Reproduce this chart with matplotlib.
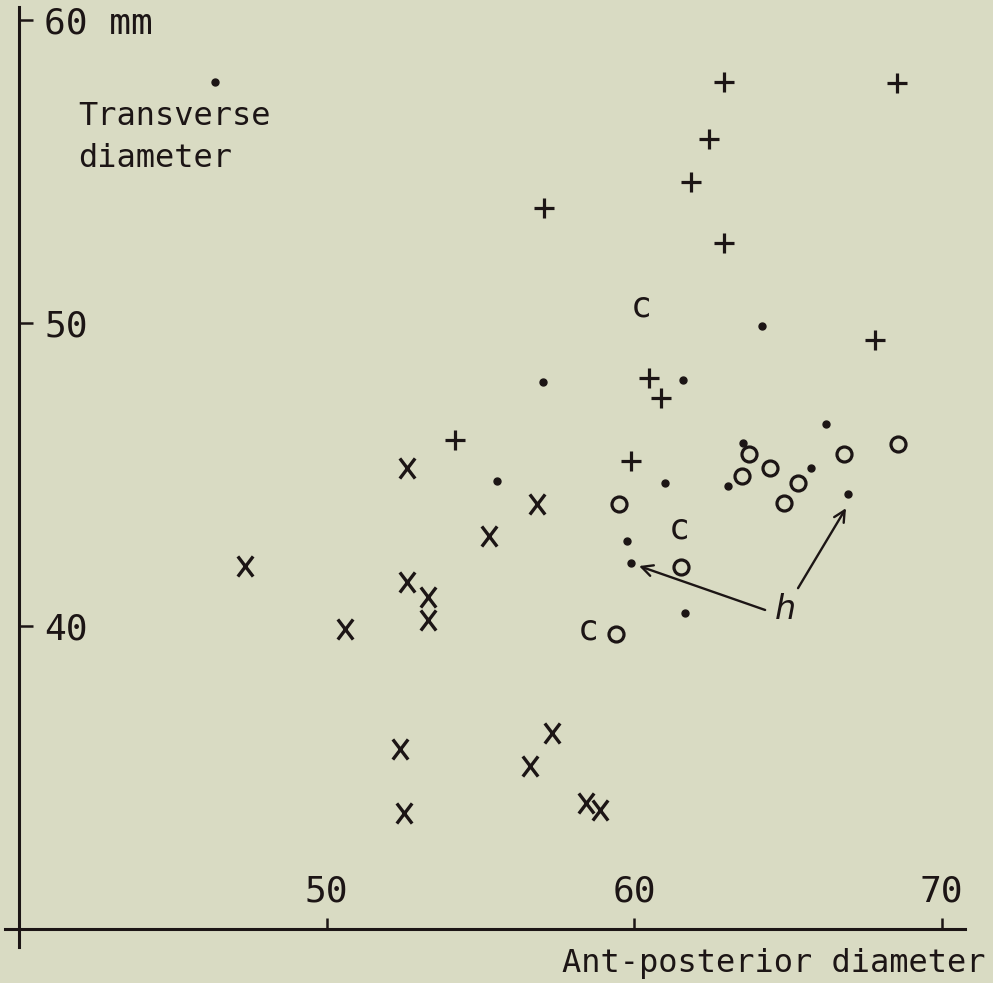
import matplotlib
matplotlib.use('Agg')
import matplotlib.pyplot as plt
from matplotlib.path import Path

plus_x = [62.93, 68.55, 62.44, 61.85, 57.07, 62.93, 67.84, 60.49, 60.88, 54.18, 59.90]
plus_y = [57.97, 57.92, 56.07, 54.65, 53.80, 52.64, 49.44, 48.18, 47.52, 46.14, 45.45]

cross_x = [47.35, 50.60, 52.62, 52.62, 53.30, 53.30, 55.28, 56.85, 52.39, 52.52, 56.62, 57.33, 58.44, 58.89]
cross_y = [41.98, 39.90, 45.21, 41.45, 40.96, 40.20, 42.97, 44.03, 35.94, 33.83, 35.38, 36.47, 34.16, 33.93]

circle_x = [59.51, 61.53, 59.41, 63.74, 63.51, 64.42, 65.33, 64.88, 66.83, 68.59]
circle_y = [44.03, 41.95, 39.74, 45.68, 44.95, 45.21, 44.72, 44.06, 45.68, 46.01]

dot_x = [46.37, 57.04, 61.59, 64.16, 55.54, 61.01, 59.77, 59.90, 61.66, 63.54, 63.06, 66.24, 65.76, 66.96]
dot_y = [57.95, 48.05, 48.12, 49.90, 44.79, 44.72, 42.80, 42.08, 40.43, 46.04, 44.62, 46.67, 45.21, 44.36]

c_x = [60.23, 61.46, 58.50]
c_y = [50.20, 42.90, 39.54]

# 'h' label and the two points it points at
h_pos = (64.91, 40.53)
h_tails = [(64.26, 40.53), (65.33, 41.25)]
h_heads = [(60.16, 41.98), (66.89, 43.89)]

x_ticks = [50, 60, 70]
x_labels = ['50', '60', '70']
y_ticks = [40, 50, 60]
y_labels = ['40', '50', '60 mm']

ink = '#1c1515'
paper = '#d9dbc3'
plt.rcParams['font.family'] = ['DejaVu Sans Mono']

fig = plt.figure(figsize=(9.93, 9.83), dpi=100, facecolor=paper)
ax = fig.add_axes([0, 0, 1, 1], facecolor=paper)
ax.set_xlim(39.38, 71.67)
ax.set_ylim(28.22, 60.66)

# axes drawn as two crossing lines
for side in ['top', 'right']:
    ax.spines[side].set_visible(False)
ax.spines['left'].set_position(('data', 40))
ax.spines['bottom'].set_position(('data', 30))
ax.spines['left'].set_bounds(29.4, 60.43)
ax.spines['bottom'].set_bounds(39.55, 70.76)
for side in ['left', 'bottom']:
    ax.spines[side].set_linewidth(2.2)
    ax.spines[side].set_color(ink)

ax.set_xticks(x_ticks, x_labels)
ax.set_yticks(y_ticks, y_labels)
ax.tick_params(axis='x', direction='in', length=8, width=1.8, colors=ink, labelsize=26, pad=-39)
ax.tick_params(axis='y', direction='in', length=10, width=1.8, colors=ink, labelsize=26, pad=-18)
for lbl in ax.get_yticklabels():
    lbl.set_horizontalalignment('left')

# x-shaped mark, a bit taller than wide
x_marker = Path([(-0.38, -0.5), (0.38, 0.5), (-0.38, 0.5), (0.38, -0.5)],
                [Path.MOVETO, Path.LINETO, Path.MOVETO, Path.LINETO])

ax.plot(plus_x, plus_y, ls='none', marker='+', ms=14.5, mew=2.3, color=ink)
ax.plot(cross_x, cross_y, ls='none', marker=x_marker, ms=14.5, mew=2.4, color=ink)
ax.plot(circle_x, circle_y, ls='none', marker='o', ms=10.8, mew=2.3, mfc='none', mec=ink)
ax.plot(dot_x, dot_y, ls='none', marker='o', ms=5, color=ink)
for x, y in zip(c_x, c_y):
    ax.text(x, y, 'c', ha='center', va='baseline', fontsize=25, color=ink)

ax.text(h_pos[0], h_pos[1], 'h', ha='center', va='center', fontsize=24,
        style='italic', family='DejaVu Sans', color=ink)
for tail, head in zip(h_tails, h_heads):
    ax.annotate('', xy=head, xytext=tail,
                arrowprops=dict(arrowstyle='->', lw=1.7, color=ink,
                                mutation_scale=20, shrinkA=0, shrinkB=0))

ax.text(41.92, 56.53, 'Transverse', ha='left', va='baseline', fontsize=23, color=ink)
ax.text(41.92, 55.15, 'diameter', ha='left', va='baseline', fontsize=23, color=ink)
ax.text(71.41, 28.58, 'Ant-posterior diameter', ha='right', va='baseline', fontsize=23, color=ink)

fig.savefig('out.png', dpi=100, facecolor=paper)
